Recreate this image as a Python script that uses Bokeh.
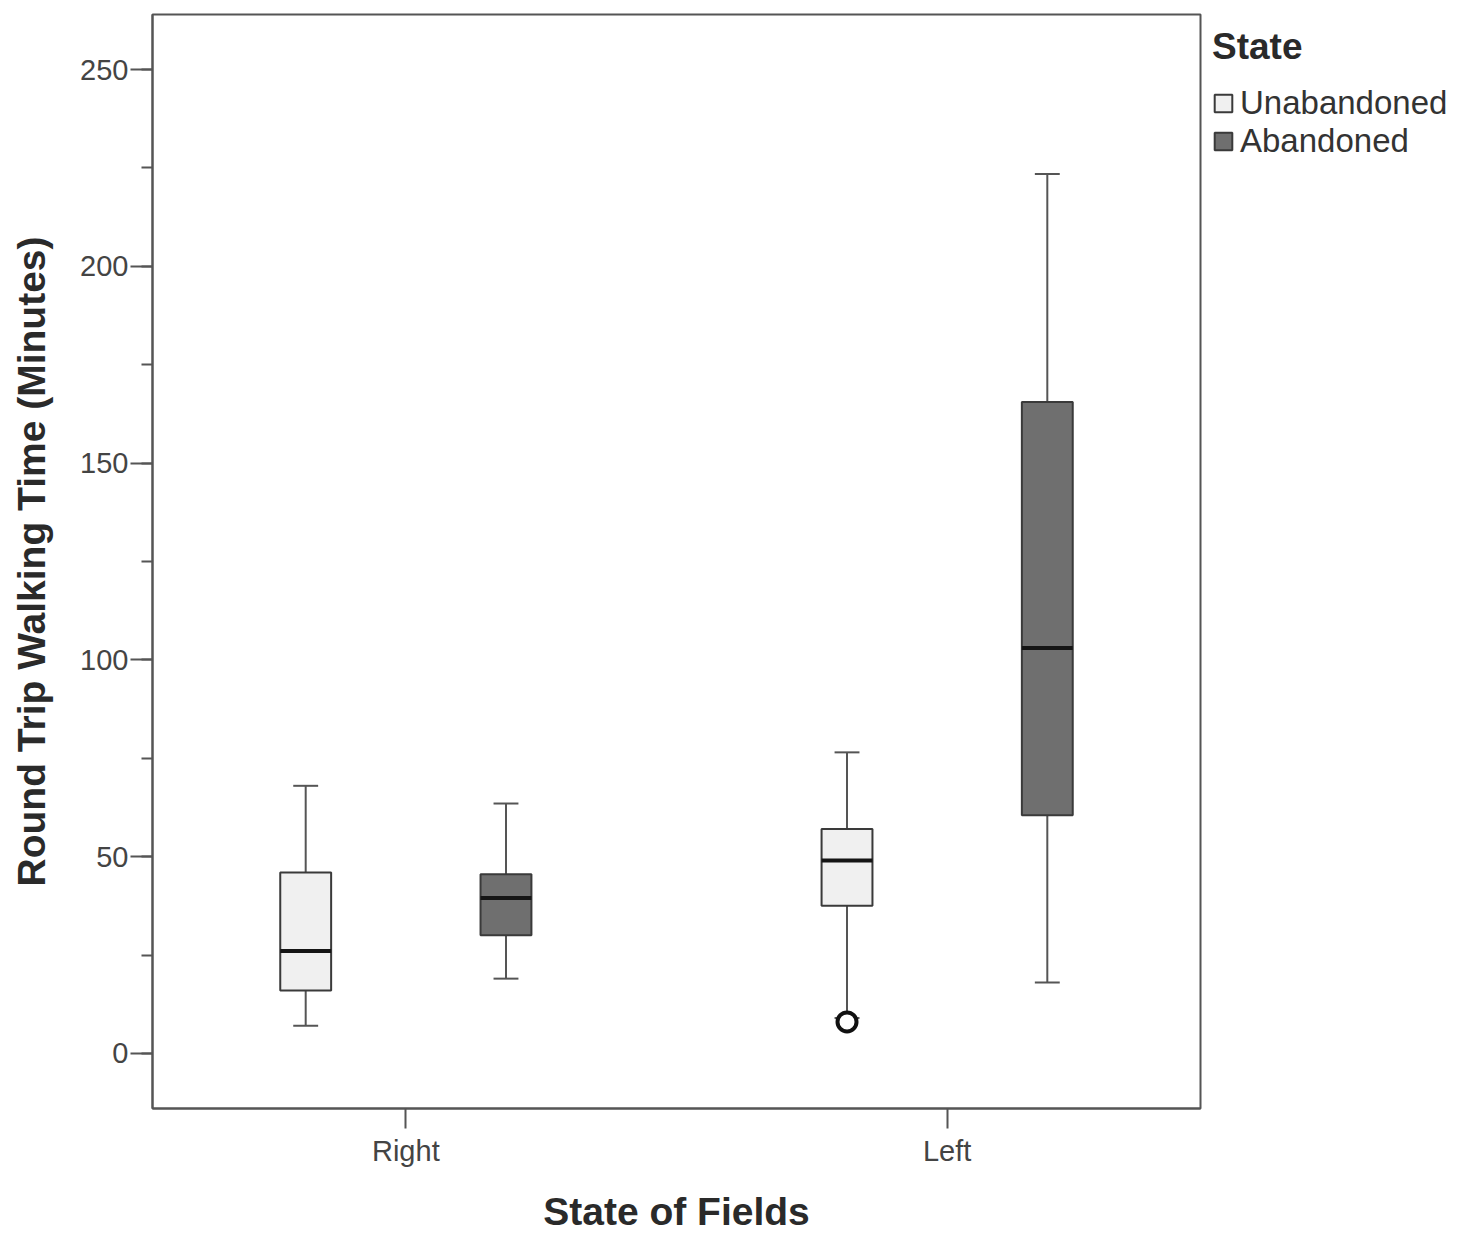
from bokeh.plotting import figure
from bokeh.models import (ColumnDataSource, FactorRange, Range1d, SingleIntervalTicker,
                          Legend, LegendItem)
from bokeh.transform import dodge
from bokeh.embed import file_html
from bokeh.resources import INLINE

# ---- data ----
fields = ["Right", "Left"]
states = ["Unabandoned", "Abandoned"]
unab_low = [7.0, 9.0]
unab_q1 = [16.0, 37.5]
unab_med = [26.0, 49.0]
unab_q3 = [46.0, 57.0]
unab_high = [68.0, 76.5]
aban_low = [19.0, 18.0]
aban_q1 = [30.0, 60.5]
aban_med = [39.5, 103.0]
aban_q3 = [45.5, 165.5]
aban_high = [63.5, 223.5]
outlier_field = ["Left"]
outlier_value = [8.0]

FONT = "Liberation Sans"
EDGE = "#555555"

p = figure(frame_width=1048, frame_height=1094, output_backend="svg", toolbar_location=None,
           x_range=FactorRange(*fields, range_padding=-0.032, range_padding_units="absolute"),
           y_range=Range1d(-14, 264),
           min_border_left=152, min_border_top=14, min_border_bottom=125, min_border_right=266)
p.background_fill_color = "white"
p.border_fill_color = "white"
p.outline_line_color = EDGE
p.outline_line_width = 2
p.xgrid.visible = False
p.ygrid.visible = False

p.yaxis.ticker = SingleIntervalTicker(interval=50, num_minor_ticks=2)
for ax in (p.xaxis[0], p.yaxis[0]):
    ax.axis_line_color = EDGE
    ax.axis_line_width = 2
    ax.major_tick_line_color = EDGE
    ax.major_tick_line_width = 2
    ax.minor_tick_line_color = EDGE
    ax.minor_tick_line_width = 2
    ax.major_tick_in = 0
    ax.minor_tick_in = 0
    ax.major_label_text_font = FONT
    ax.major_label_text_font_size = "29px"
    ax.major_label_text_color = "#444444"
    ax.axis_label_text_font = FONT
    ax.axis_label_text_font_style = "bold"
    ax.axis_label_text_font_size = "39px"
    ax.axis_label_text_color = "#2a2a2a"
p.yaxis.major_tick_out = 22
p.yaxis.minor_tick_out = 11
p.yaxis.major_label_standoff = 2
p.yaxis.axis_label = "Round Trip Walking Time (Minutes)"
p.yaxis.axis_label_standoff = 24
p.xaxis.major_tick_out = 20
p.xaxis.major_label_standoff = 6
p.xaxis.axis_label = "State of Fields"
p.xaxis.axis_label_standoff = 20

OFF = 0.185
BW = 0.094
CAP = 0.046

legend_items = []
for st, off, lo, q1, med, q3, hi, fill in [
        ("Unabandoned", -OFF, unab_low, unab_q1, unab_med, unab_q3, unab_high, "#f0f0f0"),
        ("Abandoned", OFF, aban_low, aban_q1, aban_med, aban_q3, aban_high, "#6f6f6f")]:
    src = ColumnDataSource(dict(field=fields, lo=lo, q1=q1, med=med, q3=q3, hi=hi))
    xc = dodge("field", off, range=p.x_range)
    xl = dodge("field", off - BW / 2, range=p.x_range)
    xr = dodge("field", off + BW / 2, range=p.x_range)
    cl = dodge("field", off - CAP / 2, range=p.x_range)
    cr = dodge("field", off + CAP / 2, range=p.x_range)
    p.segment(x0=xc, y0="q3", x1=xc, y1="hi", source=src, line_color=EDGE, line_width=2)
    p.segment(x0=xc, y0="q1", x1=xc, y1="lo", source=src, line_color=EDGE, line_width=2)
    p.segment(x0=cl, y0="hi", x1=cr, y1="hi", source=src, line_color=EDGE, line_width=2)
    p.segment(x0=cl, y0="lo", x1=cr, y1="lo", source=src, line_color=EDGE, line_width=2)
    r = p.vbar(x=xc, width=BW, bottom="q1", top="q3", source=src,
               fill_color=fill, line_color="#3a3a3a", line_width=2)
    p.segment(x0=xl, y0="med", x1=xr, y1="med", source=src, line_color="#151515", line_width=4)
    legend_items.append(LegendItem(label=st, renderers=[r]))

osrc = ColumnDataSource(dict(field=outlier_field, v=outlier_value))
p.scatter(x=dodge("field", -OFF, range=p.x_range), y="v", source=osrc, marker="circle",
          size=19, fill_color="white", line_color="#111111", line_width=4)

legend = Legend(items=legend_items, location="top_left", title="State",
                title_text_font=FONT, title_text_font_style="bold",
                title_text_font_size="37px", title_text_color="#2a2a2a",
                label_text_font=FONT, label_text_font_size="33px", label_text_color="#333333",
                label_text_line_height=0.9,
                glyph_width=22, glyph_height=22, label_height=30, label_standoff=6,
                spacing=0, margin=12, padding=0, title_standoff=16,
                border_line_color=None, background_fill_alpha=0)
p.add_layout(legend, "right")

open("out.html", "w").write(file_html(p, INLINE))
